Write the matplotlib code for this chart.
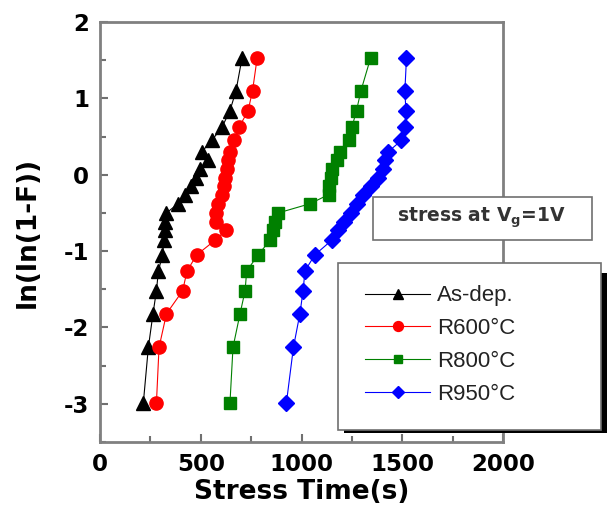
import matplotlib
matplotlib.use("Agg")
import matplotlib.pyplot as plt
from matplotlib.patches import Rectangle
from matplotlib.ticker import MultipleLocator

plt.rcParams['font.family'] = ['DejaVu Sans']
plt.rcParams['axes.unicode_minus'] = False

# Weibull plot levels ln(ln(1-F)) shared by all series
y_levels = [-2.99, -2.26, -1.82, -1.52, -1.26, -1.05, -0.86, -0.73, -0.62, -0.50, -0.38,
            -0.26, -0.15, -0.04, 0.07, 0.19, 0.30, 0.45, 0.62, 0.84, 1.10, 1.53]

t_asdep = [215, 240, 263, 280, 290, 310, 318, 322, 325, 330, 387,
           420, 450, 475, 495, 535, 505, 555, 605, 645, 675, 705]
t_r600 = [280, 293, 330, 410, 432, 480, 570, 625, 575, 575, 585,
          605, 615, 622, 628, 635, 645, 665, 690, 735, 757, 780]
t_r800 = [645, 660, 695, 720, 728, 785, 843, 860, 870, 885, 1042,
          1135, 1138, 1145, 1150, 1175, 1190, 1237, 1250, 1273, 1295, 1343]
t_r950 = [925, 960, 992, 1008, 1017, 1066, 1149, 1180, 1210, 1248, 1273,
          1306, 1345, 1380, 1405, 1414, 1430, 1496, 1513, 1518, 1513, 1521]

labels = ['As-dep.', 'R600°C', 'R800°C', 'R950°C']
series = [t_asdep, t_r600, t_r800, t_r950]
colors = ['black', '#ff0000', '#008000', '#0000ff']
markers = ['^', 'o', 's', 'D']
msizes = [10, 9.5, 8.5, 8]

W, H = 610, 519
fig = plt.figure(figsize=(W / 100, H / 100), dpi=100)
ax = fig.add_axes([100 / W, 1 - 442 / H, 403 / W, 420 / H])

handles = []
for t, c, m, ms, lab in zip(series, colors, markers, msizes, labels):
    h, = ax.plot(t, y_levels, color=c, lw=0.8, marker=m, ms=ms,
                 mfc=c, mec=c, label=lab)
    handles.append(h)

ax.set_xlim(0, 2000)
ax.set_ylim(-3.5, 2)
ax.xaxis.set_major_locator(MultipleLocator(500))
ax.xaxis.set_minor_locator(MultipleLocator(250))
ax.yaxis.set_major_locator(MultipleLocator(1))
ax.yaxis.set_minor_locator(MultipleLocator(0.5))
ax.tick_params(which='both', direction='in', color='#707070', width=1.5,
               top=False, right=False)
ax.tick_params(which='major', length=6, labelsize=16.5, pad=8)
ax.tick_params(which='minor', length=4)
for lab in ax.get_xticklabels() + ax.get_yticklabels():
    lab.set_fontweight('bold')
for s in ax.spines.values():
    s.set_color('#808080')
    s.set_linewidth(2)

ax.set_xlabel('Stress Time(s)', fontsize=19, fontweight='bold', labelpad=2)
ax.set_ylabel('ln(ln(1-F))', fontsize=19, fontweight='bold', labelpad=16)

# annotation box
fig.patches.append(Rectangle((373 / W, 1 - 240 / H), 219 / W, 43 / H,
                             transform=fig.transFigure, facecolor='white',
                             edgecolor='#707070', lw=1.2, zorder=5))
fig.text(481 / W, 1 - 218 / H, r'stress at V$_\mathbf{g}$=1V', fontsize=13.5,
         fontweight='bold', color='#333333', ha='center', va='center', zorder=6)

# legend frame with black shadow
fig.patches.append(Rectangle((344 / W, 1 - 433 / H), 263 / W, 160 / H,
                             transform=fig.transFigure, facecolor='black',
                             edgecolor='black', lw=0, zorder=5))
fig.patches.append(Rectangle((338 / W, 1 - 430 / H), 263 / W, 167 / H,
                             transform=fig.transFigure, facecolor='white',
                             edgecolor='#707070', lw=1.2, zorder=5))
leg = fig.legend(handles=handles, loc='center left',
                 bbox_to_anchor=(365 / W, 1 - 345 / H),
                 bbox_transform=fig.transFigure, frameon=False,
                 prop={'family': 'Liberation Sans', 'size': 16},
                 handlelength=2.93, handletextpad=0.3, markerscale=0.75,
                 labelspacing=0.53, borderpad=0, borderaxespad=0)
leg.set_zorder(7)
for txt in leg.get_texts():
    txt.set_color('#222222')

fig.savefig('out.png', dpi=100)
